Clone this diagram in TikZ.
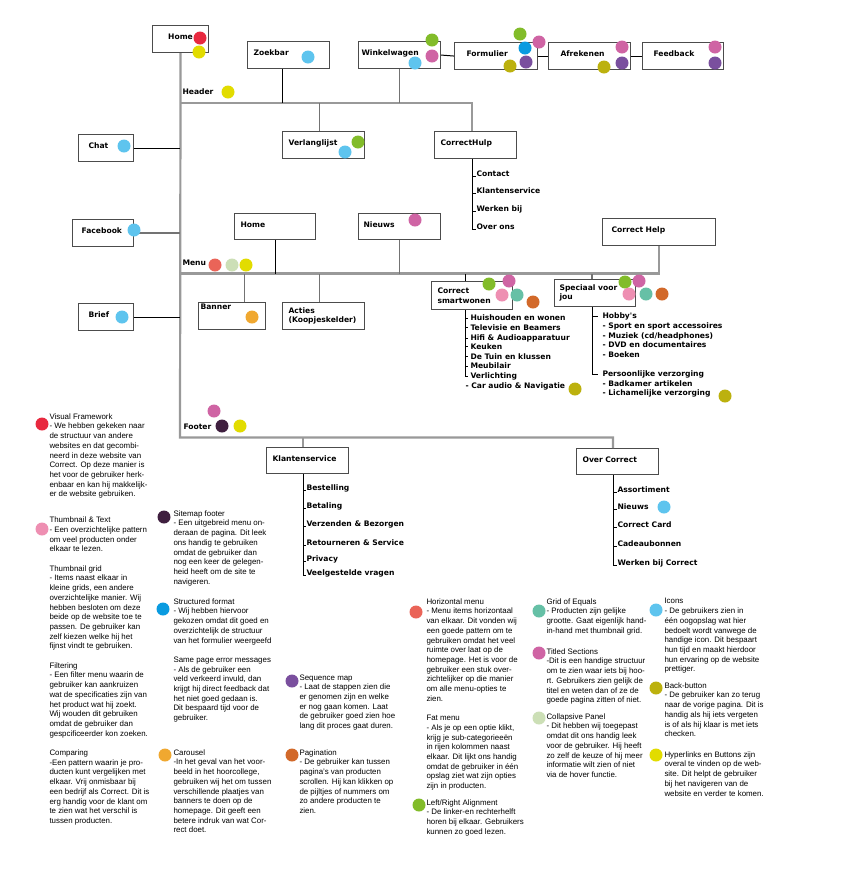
\documentclass[tikz,border=0pt]{standalone}
\usepackage{fontspec}
\setmainfont{Liberation Sans}
\newfontfamily\lblfamily{DejaVu Sans}
\usetikzlibrary{positioning, calc}
\definecolor{cred}{HTML}{E8293F}
\definecolor{cyellow}{HTML}{E2DC00}
\definecolor{csky}{HTML}{5EC4EE}
\definecolor{cblue}{HTML}{0A9BE0}
\definecolor{cgreen}{HTML}{82BC2A}
\definecolor{cpink}{HTML}{CF64A4}
\definecolor{colive}{HTML}{BCB10E}
\definecolor{cpurple}{HTML}{7A4F9E}
\definecolor{csalmon}{HTML}{EA6458}
\definecolor{cmint}{HTML}{CCDFB6}
\definecolor{corange}{HTML}{F0A830}
\definecolor{crust}{HTML}{D2692A}
\definecolor{cteal}{HTML}{66C0A6}
\definecolor{crose}{HTML}{EE8FB2}
\definecolor{cplum}{HTML}{3F1F3F}
\newcommand\lblfont{\lblfamily\bfseries\fontsize{7.6}{9.7}\selectfont}
\newcommand\legfont{\fontsize{7.9}{9.7}\selectfont}
\tikzset{
  every picture/.style={line width=1pt},
  boxbase/.style={draw=black!70, line width=1.1pt, fill=white, anchor=north west, align=left, font=\lblfont, inner xsep=6pt, inner ysep=0pt, minimum height=27pt},
  box/.style={boxbase, text depth=4.5pt},
  tallbox/.style={boxbase},
  dot/.style={circle, fill=#1, minimum size=13pt, inner sep=0pt},
  trunk/.style={draw=black!40, line width=2.2pt},
  link/.style={draw=black, line width=1pt},
  glink/.style={draw=black!55, line width=1.3pt},
}

\begin{document}
\begin{tikzpicture}[x=1pt, y=-1pt,
  item/.style={font=\lblfont, anchor=base west, inner sep=0pt},
  legend/.style={font=\legfont, anchor=north west, align=left, inner sep=0pt},
]
  \fill[white] (0,0) rectangle (845,887);
  \useasboundingbox (0,0) rectangle (845,887);

  \node[box, text width=44pt, align=center] (home) at (152,25) {Home};
  \node[box, text width=70pt] (zoek) at (247,41) {Zoekbar};
  \node[box, text width=76pt, inner xsep=3pt] (winkel) at (358,41) {Winkelwagen};
  \node[box, text width=59pt, inner xsep=12pt] (form) at (454,42) {Formulier};
  \node[box, text width=58pt, inner xsep=12pt] (afrek) at (548,42) {Afrekenen};
  \node[box, text width=59pt, inner xsep=11pt] (feed) at (642,42) {Feedback};
  \node[box, text width=70pt] (verl) at (282,131) {Verlanglijst};
  \node[box, text width=70pt] (chulp) at (434,131) {CorrectHulp};
  \node[box, text width=35pt, inner xsep=10pt] (chat) at (78,134) {Chat};
  \node[box, text width=43pt, inner xsep=9pt] (fb) at (72,219) {Facebook};
  \node[box, text width=35pt, inner xsep=10pt] (brief) at (78,303) {Brief};
  \node[box, text width=69pt, minimum height=26pt] (home2) at (234,213) {Home};
  \node[box, text width=72pt, inner xsep=5pt, minimum height=26pt] (nieuws) at (358,213) {Nieuws};
  \node[box, text width=95pt, inner xsep=9pt] (chelp) at (602,218) {Correct Help};
  \node[tallbox, text width=63pt, inner xsep=2pt] (banner) at (198,302) {Banner\\[8pt]\mbox{}};
  \node[tallbox, text width=70pt] (acties) at (282,302) {Acties\\(Koopjeskelder)};
  \node[tallbox, text width=69pt, minimum height=28pt] (smart) at (431,281) {Correct\\smartwonen};
  \node[tallbox, text width=71pt, inner xsep=5pt] (spec) at (554,279) {Speciaal voor\\jou};
  \node[box, text width=70pt, minimum height=26pt] (klant) at (266,447) {Klantenservice};
  \node[box, text width=70pt, minimum height=26pt] (ocorr) at (576,448) {Over Correct};

  \node[item, anchor=west] (hdr) at (182,92) {Header};
  \node[item, anchor=west] (mnl) at (182,263) {Menu};
  \node[item, anchor=west] (ftl) at (183,427) {Footer};

  \coordinate (hd) at (180,103);
  \coordinate (mn) at (180,273.5);
  \coordinate (ft) at (180,437.5);
  \coordinate (chx) at (472,0);
  \coordinate (smx) at (465,0);
  \coordinate (spx) at (592,0);
  \coordinate (ksx) at (303,0);
  \coordinate (ocx) at (613,0);

  \draw[trunk] (home.south) -- (ft) -- (ft -| ocx) -- (ocorr.north -| ocx);
  \draw[trunk] (ft -| ksx) -- (klant.north -| ksx);
  \draw[trunk] (hd) -- (hd -| chx) -- (chulp.north -| chx);
  \draw[trunk] (mn) -- (mn -| chelp.south) -- (chelp.south);

  \draw[link] ([xshift=-6pt]zoek.south) -- ([xshift=-6pt]zoek.south |- hd);
  \draw[glink] (winkel.south) -- (winkel.south |- hd);
  \draw[glink] ([xshift=-4pt]verl.north) -- ([xshift=-4pt]verl.north |- hd);
  \draw[link] (winkel.east) -- (form.west);
  \draw[link] (form.east) -- (afrek.west);
  \draw[link] (afrek.east) -- (feed.west);
  \draw[link] (chat.east) -- (chat.east -| hd);
  \draw[glink] (fb.east) -- (fb.east -| hd);
  \draw[link] (brief.east) -- (brief.east -| hd);
  \draw[link] (home2.south) -- (home2.south |- mn);
  \draw[glink] (nieuws.south) -- (nieuws.south |- mn);
  \draw[glink] ([xshift=12.5pt]banner.north) -- ([xshift=12.5pt]banner.north |- mn);
  \draw[glink] ([xshift=-4pt]acties.north) -- ([xshift=-4pt]acties.north |- mn);
  \draw[link] (smart.north -| smx) -- (mn -| smx);
  \draw[glink] (spec.north -| spx) -- (mn -| spx);

  \foreach \t/\y [count=\i] in {Contact/176, Klantenservice/193, Werken bij/211, Over ons/229}
    \node[item] (ch\i) at (476,\y) {\t};
  \draw[link] (chulp.south -| chx) -- (chx |- ch4.base) -- (ch4.base west);
  \foreach \i in {1,2,3}
    \draw[link] (chx |- ch\i.base) -- (ch\i.base west);

  \foreach \t [count=\i] in {Huishouden en wonen, Televisie en Beamers, Hifi \& Audioapparatuur, Keuken, De Tuin en klussen, Meubilair, Verlichting}
    \node[item] (sm\i) at (470,{311.3+9.6*\i}) {\t};
  \node[item] (sm8) at (465,{311.3+9.6*8}) {- Car audio \& Navigatie};
  \draw[link] (smart.south -| smx) -- (smx |- sm7.west);
  \foreach \i in {1,...,7}
    \draw[link] (smx |- sm\i.west) -- ++(3,0);

  \foreach \t/\y [count=\i] in {Hobby's/316, - Sport en sport accessoires/325.6, {- Muziek (cd/headphones)}/335.2, - DVD en documentaires/344.8, - Boeken/354.4, Persoonlijke verzorging/373.6, - Badkamer artikelen/383.2, - Lichamelijke verzorging/392.8}
    \node[item] (sp\i) at (602,{\y+2.8}) {\t};
  \draw[link] (spec.south -| spx) -- (spx |- sp6.west) -- ++(6,0);
  \draw[link] (spx |- sp1.west) -- ++(6,0);

  \foreach \t/\y [count=\i] in {Bestelling/488, Betaling/506, Verzenden \& Bezorgen/524, Retourneren \& Service/543, Privacy/559, Veelgestelde vragen/573}
    \node[item] (ks\i) at (306,{\y+2.8}) {\t};
  \draw[link] (klant.south -| ksx) -- (ksx |- ks6.base) -- (ks6.base west);
  \foreach \i in {1,...,5}
    \draw[link] (ksx |- ks\i.base) -- (ks\i.base west);

  \foreach \t/\y [count=\i] in {Assortiment/490, Nieuws/507, Correct Card/525, Cadeaubonnen/544, Werken bij Correct/563}
    \node[item] (oc\i) at (617,{\y+2.8}) {\t};
  \draw[link] (ocorr.south -| ocx) -- (ocx |- oc5.base) -- (oc5.base west);
  \foreach \i in {1,...,4}
    \draw[link] (ocx |- oc\i.base) -- (oc\i.base west);

  \foreach \c/\x/\y [count=\i] in {cred/200/38, cyellow/199/52, csky/308/57, cyellow/228/92,
      cgreen/432/40, cpink/432/56, csky/415/63,
      cgreen/520/34, cpink/539/42, cblue/525/48, colive/510/66, cpurple/526/62,
      cpink/622/47, colive/604/67, cpurple/622/63, cpink/715/47, cpurple/715/63,
      cgreen/358/142, csky/345/152, csky/124/146, csky/134/230, csky/122/317,
      cpink/415/220, csalmon/215/265, cmint/232/265, cyellow/246/265, corange/252/317,
      cgreen/489/284, cpink/509/281, crose/502/295, cteal/517/295, crust/533/302,
      cgreen/625/282, cpink/639/281, crose/629/294, cteal/646/294, crust/662/294,
      colive/575/389, colive/725/396,
      cpink/214/411, cplum/222/426, cyellow/240/426, csky/664/507}
    \node[dot=\c] (d\i) at (\x,\y) {};

  \foreach \c/\x/\y [count=\i] in {cred/42/424, crose/42/529, cplum/164/517, cblue/163/609,
      corange/165/755, cpurple/292/681, crust/292/755, csalmon/416/612, cgreen/419/805,
      cteal/539/611, cpink/539/653, cmint/539/718, csky/656/610, colive/656/688, cyellow/656/755}
    \node[dot=\c] (ld\i) at (\x,\y) {};

  \node[legend] (leg1) at (49,413) {Visual Framework\\- We hebben gekeken naar\\de structuur van andere\\websites en dat gecombi-\\neerd in deze website van\\Correct. Op deze manier is\\het voor de gebruiker herk-\\enbaar en kan hij makkelijk-\\er de website gebruiken.};
  \node[legend] (leg2) at (49,516.5) {Thumbnail \& Text\\- Een overzichtelijke pattern\\om veel producten onder\\elkaar te lezen.\\[9.7pt]Thumbnail grid\\- Items naast elkaar in\\kleine grids, een andere\\overzichtelijke manier. Wij\\hebben besloten om deze\\beide op de website toe te\\passen. De gebruiker kan\\zelf kiezen welke hij het\\fijnst vindt te gebruiken.\\[9.7pt]Filtering\\- Een filter menu waarin de\\gebruiker kan aankruizen\\wat de specificaties zijn van\\het product wat hij zoekt.\\Wij wouden dit gebruiken\\omdat de gebruiker dan\\gespcificeerder kon zoeken.\\[9.7pt]Comparing\\-Een pattern waarin je pro-\\ducten kunt vergelijken met\\elkaar. Vrij onmisbaar bij\\een bedrijf als Correct. Dit is\\erg handig voor de klant om\\te zien wat het verschil is\\tussen producten.};
  \node[legend] (leg3) at (173,510) {Sitemap footer\\- Een uitgebreid menu on-\\deraan de pagina. Dit leek\\ons handig te gebruiken\\omdat de gebruiker dan\\nog een keer de gelegen-\\heid heeft om de site te\\navigeren.};
  \node[legend] (leg4) at (173,598) {Structured format\\- Wij hebben hiervoor\\gekozen omdat dit goed en\\overzichtelijk de structuur\\van het formulier weergeefd\\[9.7pt]Same page error messages\\- Als de gebruiker een\\veld verkeerd invuld, dan\\krijgt hij direct feedback dat\\het niet goed gedaan is.\\Dit bespaard tijd voor de\\gebruiker.};
  \node[legend] (leg5) at (173,749) {Carousel\\-In het geval van het voor-\\beeld in het hoorcollege,\\gebruiken wij het om tussen\\verschillende plaatjes van\\banners te doen op de\\homepage. Dit geeft een\\betere indruk van wat Cor-\\rect doet.};
  \node[legend] (leg6) at (299,674) {Sequence map\\- Laat de stappen zien die\\er genomen zijn en welke\\er nog gaan komen. Laat\\de gebruiker goed zien hoe\\lang dit proces gaat duren.};
  \node[legend] (leg7) at (299,749) {Pagination\\- De gebruiker kan tussen\\pagina's van producten\\scrollen. Hij kan klikken op\\de pijltjes of nummers om\\zo andere producten te\\zien.};
  \node[legend] (leg8) at (426,598) {Horizontal menu\\- Menu items horizontaal\\van elkaar. Dit vonden wij\\een goede pattern om te\\gebruiken omdat het veel\\ruimte over laat op de\\homepage. Het is voor de\\gebruiker een stuk over-\\zichtelijker op die manier\\om alle menu-opties te\\zien.\\[9.7pt]Fat menu\\- Als je op een optie klikt,\\krijg je sub-categorieeën\\in rijen kolommen naast\\elkaar. Dit lijkt ons handig\\omdat de gebruiker in één\\opslag ziet wat zijn opties\\zijn in producten.};
  \node[legend] (leg9) at (426,799) {Left/Right Alignment\\- De linker-en rechterhelft\\horen bij elkaar. Gebruikers\\kunnen zo goed lezen.};
  \node[legend] (leg10) at (546,598) {Grid of Equals\\- Producten zijn gelijke\\grootte. Gaat eigenlijk hand-\\in-hand met thumbnail grid.};
  \node[legend] (leg11) at (546,648) {Titled Sections\\-Dit is een handige structuur\\om te zien waar iets bij hoo-\\rt. Gebruikers zien gelijk de\\titel en weten dan of ze de\\goede pagina zitten of niet.};
  \node[legend] (leg12) at (546,713) {Collapsive Panel\\- Dit hebben wij toegepast\\omdat dit ons handig leek\\voor de gebruiker. Hij heeft\\zo zelf de keuze of hij meer\\informatie wilt zien of niet\\via de hover functie.};
  \node[legend] (leg13) at (664,598) {Icons\\- De gebruikers zien in\\één oogopslag wat hier\\bedoelt wordt vanwege de\\handige icon. Dit bespaart\\hun tijd en maakt hierdoor\\hun ervaring op de website\\prettiger.};
  \node[legend] (leg14) at (664,682) {Back-button\\- De gebruiker kan zo terug\\naar de vorige pagina. Dit is\\handig als hij iets vergeten\\is of als hij klaar is met iets\\checken.};
  \node[legend] (leg15) at (664,751) {Hyperlinks en Buttons zijn\\overal te vinden op de web-\\site. Dit helpt de gebruiker\\bij het navigeren van de\\website en verder te komen.};
\end{tikzpicture}
\end{document}
